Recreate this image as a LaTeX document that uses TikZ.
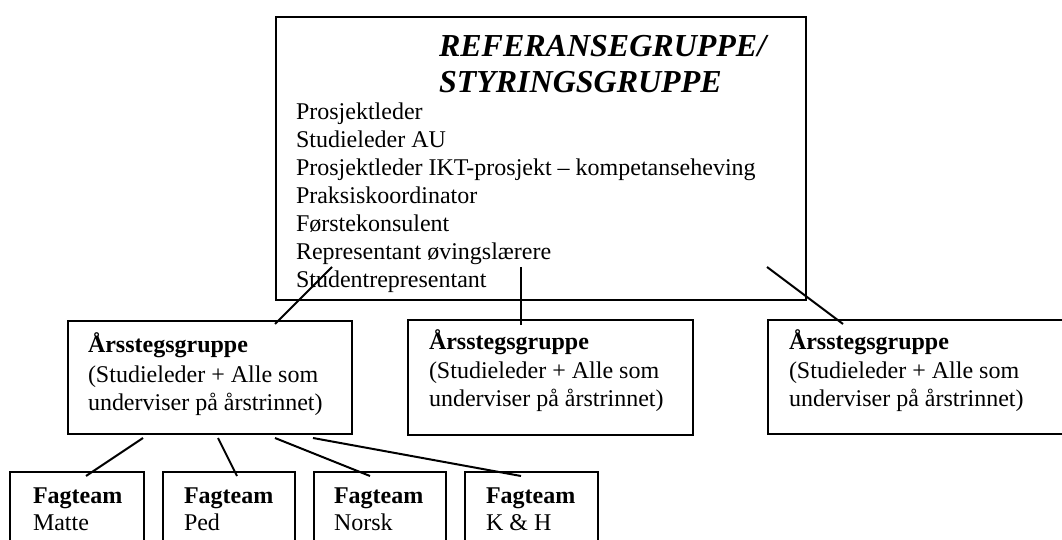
\documentclass[tikz,border=0pt]{standalone}
\usepackage{fontspec}
\setmainfont{Liberation Serif}
\begin{document}
\begin{tikzpicture}[x=0.5pt,y=-0.5pt,line width=1pt,
  boxshape/.style={draw,rectangle,inner sep=0pt,anchor=north west},
  txt/.style={anchor=base west,inner sep=0pt,font=\fontsize{12}{14}\selectfont},
  btxt/.style={txt,font=\fontsize{12}{14}\selectfont\bfseries},
  ttl/.style={anchor=base west,inner sep=0pt,font=\fontsize{16}{18}\selectfont\bfseries\itshape},
  link/.style={draw,line width=1pt}]
\clip (0,0) rectangle (1062,540);
% boxes
\node[boxshape,minimum width=265pt,minimum height=141.5pt] (ref) at (275,16) {};
\node[boxshape,minimum width=142pt,minimum height=56.5pt] (aarA) at (67,320) {};
\node[boxshape,minimum width=142.5pt,minimum height=57.5pt] (aarB) at (407,319) {};
\node[boxshape,minimum width=148.5pt,minimum height=57pt] (aarC) at (767,319) {};
\node[boxshape,minimum width=67pt,minimum height=37pt] (fag1) at (9,471) {};
\node[boxshape,minimum width=66pt,minimum height=37pt] (fag2) at (162,471) {};
\node[boxshape,minimum width=66pt,minimum height=37pt] (fag3) at (313,471) {};
\node[boxshape,minimum width=66.5pt,minimum height=37pt] (fag4) at (464,471) {};
% top box texts
\node[ttl] (t1) at (438,57) {REFERANSEGRUPPE/};
\node[ttl] (t2) at (438,93) {STYRINGSGRUPPE};
\node[txt] (m1) at (295,120) {Prosjektleder};
\node[txt] (m2) at (295,148) {Studieleder AU};
\node[txt] (m3) at (295,176) {Prosjektleder IKT-prosjekt – kompetanseheving};
\node[txt] (m4) at (295,204) {Praksiskoordinator};
\node[txt] (m5) at (295,232) {Førstekonsulent};
\node[txt] (m6) at (295,260) {Representant øvingslærere};
\node[txt] (m7) at (295,287) {Studentrepresentant};
% Årsstegsgruppe texts
\node[btxt] (a1) at (87,352) {Årsstegsgruppe};
\node[txt] (a2) at (87,382) {(Studieleder + Alle som};
\node[txt] (a3) at (87,410) {underviser på årstrinnet)};
\node[btxt] (b1) at (428,350) {Årsstegsgruppe};
\node[txt] (b2) at (428,379) {(Studieleder + Alle som};
\node[txt] (b3) at (428,407) {underviser på årstrinnet)};
\node[btxt] (c1) at (788,350) {Årsstegsgruppe};
\node[txt] (c2) at (788,379) {(Studieleder + Alle som};
\node[txt] (c3) at (788,407) {underviser på årstrinnet)};
% Fagteam texts
\node[btxt] (f1a) at (32,503) {Fagteam};
\node[txt] (f1b) at (32,530) {Matte};
\node[btxt] (f2a) at (183,503) {Fagteam};
\node[txt] (f2b) at (183,530) {Ped};
\node[btxt] (f3a) at (333,503) {Fagteam};
\node[txt] (f3b) at (333,530) {Norsk};
\node[btxt] (f4a) at (485,503) {Fagteam};
\node[txt] (f4b) at (485,530) {K \& H};
% connector end points
\coordinate (r1) at (332,267);
\coordinate (r1e) at (275,324);
\coordinate (r2) at (521,267);
\coordinate (r2e) at (521,325);
\coordinate (r3) at (767,267);
\coordinate (r3e) at (843,324);
\coordinate (s1) at (143,438);
\coordinate (s1e) at (86,476);
\coordinate (s2) at (218,438);
\coordinate (s2e) at (237,476);
\coordinate (s3) at (275,438);
\coordinate (s3e) at (370,476);
\coordinate (s4) at (313,438);
\coordinate (s4e) at (521,476);
\draw[link] (r1) -- (r1e);
\draw[link] (r2) -- (r2e);
\draw[link] (r3) -- (r3e);
\draw[link] (s1) -- (s1e);
\draw[link] (s2) -- (s2e);
\draw[link] (s3) -- (s3e);
\draw[link] (s4) -- (s4e);
\end{tikzpicture}
\end{document}
